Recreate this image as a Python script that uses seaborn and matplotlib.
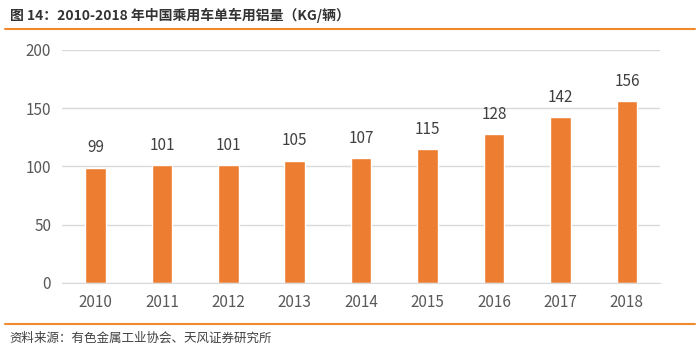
import pandas as pd
import matplotlib
matplotlib.use("Agg")
import matplotlib.pyplot as plt
import seaborn as sns
from matplotlib.lines import Line2D

years = ["2010", "2011", "2012", "2013", "2014", "2015", "2016", "2017", "2018"]
alu_kg = [99, 101, 101, 105, 107, 115, 128, 142, 156]
y_ticks = [0, 50, 100, 150, 200]

sns.set_style("white")
plt.rcParams["font.family"] = ["Noto Sans CJK SC", "DejaVu Sans"]

BAR = "#ED7D31"
TXT = "#595959"
LINE = "#F08A2C"

df = pd.DataFrame({"year": years, "kg": alu_kg})

fig = plt.figure(figsize=(7, 3.51), dpi=100)
ax = fig.add_axes([0.089, 0.194, 0.854, 0.664])
sns.barplot(data=df, x="year", y="kg", color=BAR, width=0.31, saturation=1, ax=ax)

ax.set_ylim(0, 200)
ax.set_yticks(y_ticks)
ax.set_xlim(-0.5, len(years) - 0.5)
ax.yaxis.grid(True, color="#D9D9D9", linewidth=1)
ax.set_axisbelow(True)
for s in ["top", "right", "left"]:
    ax.spines[s].set_visible(False)
ax.spines["bottom"].set_color("#D9D9D9")
ax.tick_params(axis="both", length=0, labelsize=11, colors=TXT, pad=8)
ax.set_xlabel(""); ax.set_ylabel("")

for c in ax.containers:
    ax.bar_label(c, fmt="%d", padding=8, fontsize=11, color="#404040")

# header / footer
fig.text(0.014, 0.955, "图 14：2010-2018 年中国乘用车单车用铝量（KG/辆）", fontsize=10,
         fontweight="bold", color="#333333", va="center")
fig.add_artist(Line2D([0.007, 0.993], [0.918, 0.918], color=LINE, linewidth=1.5))
fig.add_artist(Line2D([0.007, 0.993], [0.077, 0.077], color=LINE, linewidth=1.5))
fig.text(0.014, 0.037, "资料来源：有色金属工业协会、天风证券研究所", fontsize=9,
         color="#404040", va="center")

fig.savefig("out.png", dpi=100)
